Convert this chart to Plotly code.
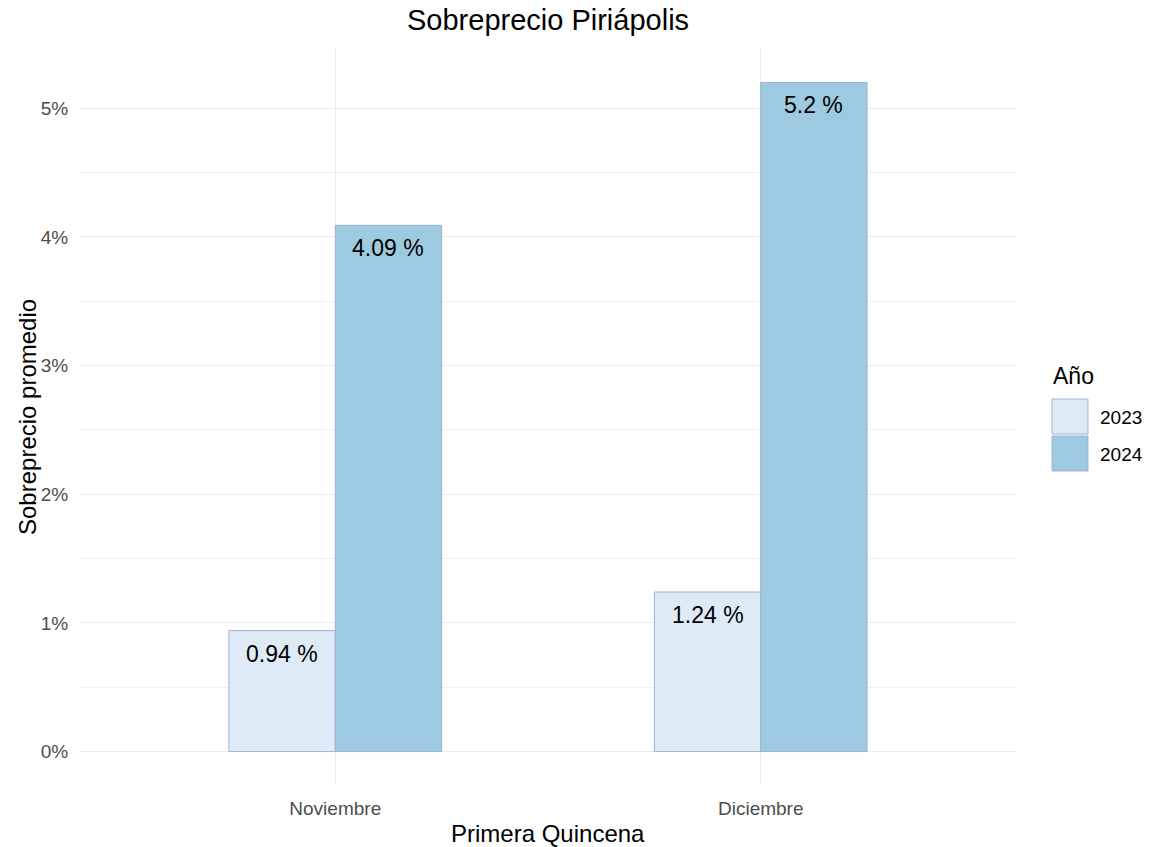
import plotly.graph_objects as go

categories = ["Noviembre", "Diciembre"]
years = ["2023", "2024"]
values_2023 = [0.94, 1.24]
values_2024 = [4.09, 5.2]
y_ticks = [0, 1, 2, 3, 4, 5]
y_tick_labels = ["0%", "1%", "2%", "3%", "4%", "5%"]

fills = {"2023": "#DEEBF7", "2024": "#9ECAE1"}
border = "#9FB3D1"
FONT = "Liberation Sans, Arial, sans-serif"

# panel geometry (pixels)
L, R, T, B = 80, 1016, 49, 785
W, H = 1153, 847
pw, ph = R - L, B - T

fig = go.Figure()
offsets = [-0.125, 0.125]
for yr, vals, off in zip(years, [values_2023, values_2024], offsets):
    fig.add_trace(go.Bar(
        x=categories, y=vals, name=yr,
        marker=dict(color=fills[yr], line=dict(color=border, width=1)),
        showlegend=False, hoverinfo="x+y",
    ))
    for i, v in enumerate(vals):
        fig.add_annotation(x=i + off, y=v, xref="x", yref="y",
                           text=f"{v:g} %", showarrow=False,
                           xanchor="center", yanchor="middle", yshift=-23,
                           font=dict(size=23, color="black", family=FONT))

ymin, ymax = -0.26, 5.46
fig.update_layout(
    width=W, height=H,
    paper_bgcolor="white", plot_bgcolor="white",
    margin=dict(l=L, r=W - R, t=T, b=H - B, autoexpand=False),
    barmode="group", bargap=0.5, bargroupgap=0,
    font=dict(family=FONT, color="black"),
)
fig.update_xaxes(
    range=[-0.6, 1.6], showgrid=True, gridcolor="#EBEBEB", gridwidth=1,
    zeroline=False, showline=False, automargin=False,
    ticks="outside", ticklen=6, tickcolor="rgba(0,0,0,0)",
    tickfont=dict(size=19, color="#4D4D4D"),
)
fig.update_yaxes(
    range=[ymin, ymax], tickvals=y_ticks, ticktext=y_tick_labels,
    showgrid=True, gridcolor="#EBEBEB", gridwidth=1,
    minor=dict(tickvals=[0.5, 1.5, 2.5, 3.5, 4.5], showgrid=True, gridcolor="#F0F0F0", gridwidth=1),
    zeroline=False, showline=False, automargin=False,
    ticks="outside", ticklen=7, tickcolor="rgba(0,0,0,0)",
    tickfont=dict(size=19, color="#4D4D4D"),
)

def px_x(x):
    return (x - L) / pw

def px_y(y):
    return 1 - (y - T) / ph

# titles
fig.add_annotation(xref="paper", yref="paper", x=0.5, y=px_y(20), text="Sobreprecio Piriápolis",
                   showarrow=False, xanchor="center", yanchor="middle",
                   font=dict(size=29, color="black"))
fig.add_annotation(xref="paper", yref="paper", x=0.5, y=px_y(833), text="Primera Quincena",
                   showarrow=False, xanchor="center", yanchor="middle",
                   font=dict(size=24, color="black"))
fig.add_annotation(xref="paper", yref="paper", x=px_x(27), y=px_y(417), text="Sobreprecio promedio",
                   showarrow=False, xanchor="center", yanchor="middle", textangle=-90,
                   font=dict(size=24, color="black"))

# legend drawn manually (ggplot-style large keys)
fig.add_annotation(xref="paper", yref="paper", x=px_x(1051), y=px_y(376),
                   text="Año", showarrow=False, xanchor="left", yanchor="middle",
                   font=dict(size=23, color="black"))
for i, yr in enumerate(years):
    top = 399 + i * 37
    fig.add_shape(type="rect", xref="paper", yref="paper",
                  x0=px_x(1052), x1=px_x(1088),
                  y0=px_y(top), y1=px_y(top + 35),
                  fillcolor=fills[yr], line=dict(color=border, width=1))
    fig.add_annotation(xref="paper", yref="paper", x=px_x(1098),
                       y=px_y(top + 18), text=yr, showarrow=False,
                       xanchor="left", yanchor="middle", font=dict(size=19, color="black"))

fig.write_html("out.html", config={"displayModeBar": False},
               post_script="document.body.style.margin='0';document.body.style.overflow='hidden';")
